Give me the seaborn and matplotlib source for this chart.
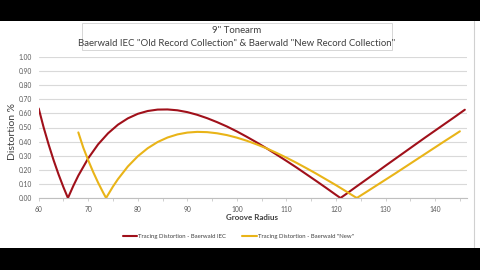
import matplotlib
matplotlib.use("Agg")
import matplotlib.pyplot as plt
import seaborn as sns
import pandas as pd
from matplotlib.patches import Rectangle
from matplotlib.lines import Line2D
from matplotlib.ticker import MultipleLocator

# ---- data ----
iec_radius = [60, 61, 62, 63, 64, 65, 65.9, 67, 68, 70, 72, 74, 76, 78, 80, 82, 84, 86, 88,
              90, 92, 94, 96, 98, 100, 102, 104, 106, 108, 110, 112, 114, 116, 118, 120,
              120.9, 122, 124, 126, 128, 130, 132, 134, 136, 138, 140, 142, 144, 146]
iec_dist = [0.635, 0.50, 0.38, 0.269, 0.168, 0.076, 0.0, 0.087, 0.159, 0.282, 0.381, 0.459,
            0.520, 0.565, 0.597, 0.617, 0.627, 0.628, 0.622, 0.609, 0.590, 0.566, 0.538,
            0.507, 0.472, 0.434, 0.394, 0.352, 0.308, 0.263, 0.217, 0.169, 0.121, 0.072,
            0.022, 0.0, 0.027, 0.078, 0.128, 0.178, 0.229, 0.279, 0.329, 0.379, 0.429,
            0.478, 0.527, 0.576, 0.626]

new_radius = [68, 69, 70, 71, 72, 73, 73.6, 75, 76, 78, 80, 82, 84, 86, 88, 90, 92, 94, 96,
              98, 100, 102, 104, 106, 108, 110, 112, 114, 116, 118, 120, 122, 124, 124.2,
              126, 128, 130, 132, 134, 136, 138, 140, 142, 144, 145]
new_dist = [0.465, 0.357, 0.267, 0.184, 0.108, 0.039, 0.0, 0.082, 0.134, 0.224, 0.296,
            0.353, 0.397, 0.429, 0.451, 0.464, 0.469, 0.467, 0.459, 0.446, 0.428, 0.406,
            0.380, 0.352, 0.320, 0.286, 0.250, 0.212, 0.173, 0.132, 0.091, 0.048, 0.004,
            0.0, 0.040, 0.085, 0.130, 0.175, 0.221, 0.267, 0.313, 0.359, 0.405, 0.450, 0.473]

series_names = ["Tracing Distortion - Baerwald IEC", 'Tracing Distortion - Baerwald "New"']
series_colors = ["#A0101A", "#E9B418"]
x_ticks = [60, 70, 80, 90, 100, 110, 120, 130, 140]
title_lines = ['9" Tonearm', 'Baerwald IEC "Old Record Collection" & Baerwald "New Record Collection"']

df = pd.concat([
    pd.DataFrame({"radius": iec_radius, "dist": iec_dist, "series": series_names[0]}),
    pd.DataFrame({"radius": new_radius, "dist": new_dist, "series": series_names[1]}),
], ignore_index=True)

sns.set_theme(style="white")
plt.rcParams["font.family"] = ["Lato", "DejaVu Sans"]

W, H = 480, 270
fig = plt.figure(figsize=(4.8, 2.7), dpi=100)
fig.patch.set_facecolor("white")

def fx(px):
    return px / W

def fy(py):
    return 1 - py / H

# letterbox bands
fig.patches.append(Rectangle((0, fy(21)), 1, 21 / H, transform=fig.transFigure,
                             facecolor="black", edgecolor="none", zorder=10))
fig.patches.append(Rectangle((0, 0), 1, 22 / H, transform=fig.transFigure,
                             facecolor="black", edgecolor="none", zorder=10))
fig.lines.append(Line2D([fx(474), fx(474)], [fy(247), fy(21)], transform=fig.transFigure,
                        color="#D0D0D0", lw=0.8))

ax = fig.add_axes([fx(38.7), fy(198), fx(467.3) - fx(38.7), fy(57) - fy(198)])
sns.lineplot(data=df, x="radius", y="dist", hue="series", palette=series_colors,
             estimator=None, sort=False, lw=1.5, ax=ax, legend=False)

ax.set_xlim(60, 146.5)
ax.set_ylim(0, 1.0)
ax.set_yticks([i / 10 for i in range(11)])
ax.set_yticklabels([f"{i / 10:.2f}" for i in range(11)])
ax.set_xticks(x_ticks)
ax.set_xticklabels([str(t) for t in x_ticks])
ax.xaxis.set_minor_locator(MultipleLocator(5))
ax.grid(axis="y", color="#D9D9D9", lw=0.8)
ax.set_axisbelow(True)
for s in ["top", "right", "left"]:
    ax.spines[s].set_visible(False)
ax.spines["bottom"].set_color("#BFBFBF")
ax.spines["bottom"].set_linewidth(0.8)
ax.tick_params(axis="y", length=0, labelsize=4.8, labelcolor="#595959", pad=5)
ax.tick_params(axis="x", which="both", bottom=True, length=2.5, width=0.6, color="#C8C8C8",
               labelsize=4.8, labelcolor="#595959", pad=3)
ax.set_xlabel("")
ax.set_ylabel("")

fig.text(fx(12.5), fy(131), "Distortion %", rotation=90, ha="center", va="center",
         fontsize=7.5, color="#404040")
fig.text(fx(252), fy(217), "Groove Radius", ha="center", va="center",
         fontsize=5.8, color="#404040", fontweight="bold")

# title box
fig.patches.append(Rectangle((fx(82), fy(50)), fx(392) - fx(82), (50 - 23) / H,
                             transform=fig.transFigure, facecolor="white",
                             edgecolor="#D0D0D0", lw=0.6))
fig.text(fx(237), fy(30.5), title_lines[0], ha="center", va="center", fontsize=6.9,
         color="#404040")
fig.text(fx(237), fy(43), title_lines[1], ha="center", va="center", fontsize=6.9,
         color="#404040")

handles = [Line2D([], [], color=c, lw=1.5) for c in series_colors]
fig.legend(handles, series_names, loc="center", bbox_to_anchor=(fx(238), fy(236)),
           ncol=2, frameon=False, fontsize=4.3, handlelength=2.4, handletextpad=0.15,
           columnspacing=2.8, labelcolor="#404040")

fig.savefig("out.png", dpi=100)
